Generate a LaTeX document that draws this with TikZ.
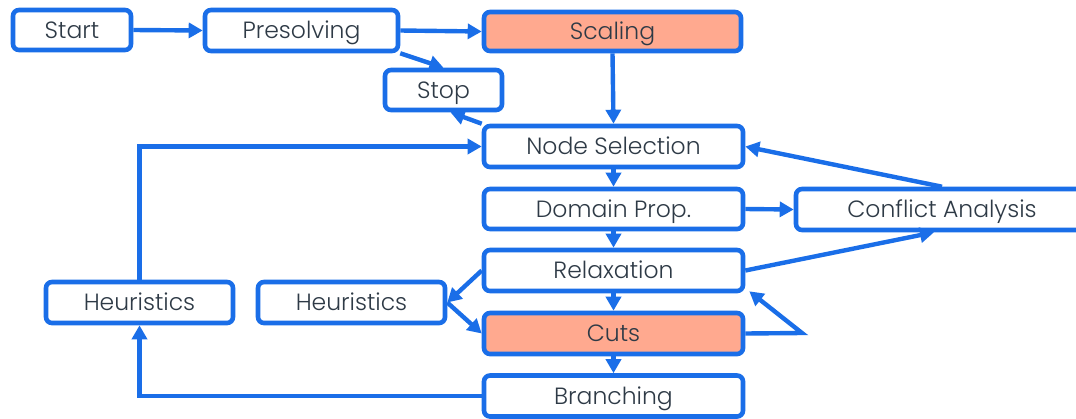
\documentclass[tikz,border=0pt]{standalone}
\usepackage{fontspec}
\IfFontExistsTF{Poppins Light}{\setmainfont{Poppins Light}}{\setmainfont{Poppins}}
\usetikzlibrary{arrows.meta,calc}
\definecolor{flowblue}{HTML}{1A6EE8}
\definecolor{salmon}{HTML}{FFA98F}
\definecolor{ink}{HTML}{2E3A46}
\tikzset{
  box/.style={draw=flowblue, line width=4.6pt, rounded corners=6pt, fill=white,
    text=ink, font=\fontsize{23.5}{25}\selectfont, inner sep=0pt, anchor=center,
    text height=17pt, text depth=1pt},
  hot/.style={box, fill=salmon},
  link/.style={draw=flowblue, line width=4.4pt, -{Triangle[length=14pt,width=15pt]}},
}
\begin{document}
\begin{tikzpicture}[x=1pt,y=-1pt]
\useasboundingbox (0,0) rectangle (1076,418);
% boxes
\node[box, minimum width=118, minimum height=40] (start) at (72,30) {Start};
\node[box, minimum width=193, minimum height=41] (pres) at (301.5,30.5) {Presolving};
\node[hot, minimum width=257, minimum height=39] (scal) at (612.5,31.5) {Scaling};
\node[box, minimum width=117, minimum height=40] (stop) at (443.5,90) {Stop};
\node[box, minimum width=259, minimum height=41] (nsel) at (613.5,146.5) {Node Selection};
\node[box, minimum width=259, minimum height=40] (dprop) at (613.5,209) {Domain Prop.};
\node[box, minimum width=292, minimum height=41] (conf) at (942,209.5) {Conflict Analysis};
\node[box, minimum width=259, minimum height=41] (relax) at (613.5,270.5) {Relaxation};
\node[hot, minimum width=259, minimum height=41] (cuts) at (613.5,333.5) {Cuts};
\node[box, minimum width=259, minimum height=41] (branch) at (613.5,396) {Branching};
\node[box, minimum width=187, minimum height=41] (heurL) at (139.5,302.5) {Heuristics};
\node[box, minimum width=187, minimum height=41] (heurM) at (351.5,302.5) {Heuristics};
\coordinate (loop) at (802,333);
% connectors
\draw[link] (start.east) -- (pres.west);
\draw[link] (pres.east) -- (scal.west);
\draw[link] (pres.south east) -- (stop.north);
\draw[link] (scal.south) -- (nsel.north);
\draw[link] (nsel.north west) -- ([xshift=7pt]stop.south);
\draw[link] (heurL.north) |- (nsel.west);
\draw[link] (conf.north) -- (nsel.east);
\draw[link] (nsel.south) -- (dprop.north);
\draw[link] (dprop.east) -- (conf.west);
\draw[link] (dprop.south) -- (relax.north);
\draw[link] (relax.east) -- ([xshift=-8pt]conf.south);
\draw[link] (relax.west) -- (heurM.east);
\draw[link] (heurM.east) -- (cuts.west);
\draw[link] (relax.south) -- (cuts.north);
\draw[link] (cuts.east) -- (loop) -- ([xshift=4pt,yshift=2pt]relax.south east);
\draw[link] (cuts.south) -- (branch.north);
\draw[link] (branch.west) -| (heurL.south);
\end{tikzpicture}
\end{document}
